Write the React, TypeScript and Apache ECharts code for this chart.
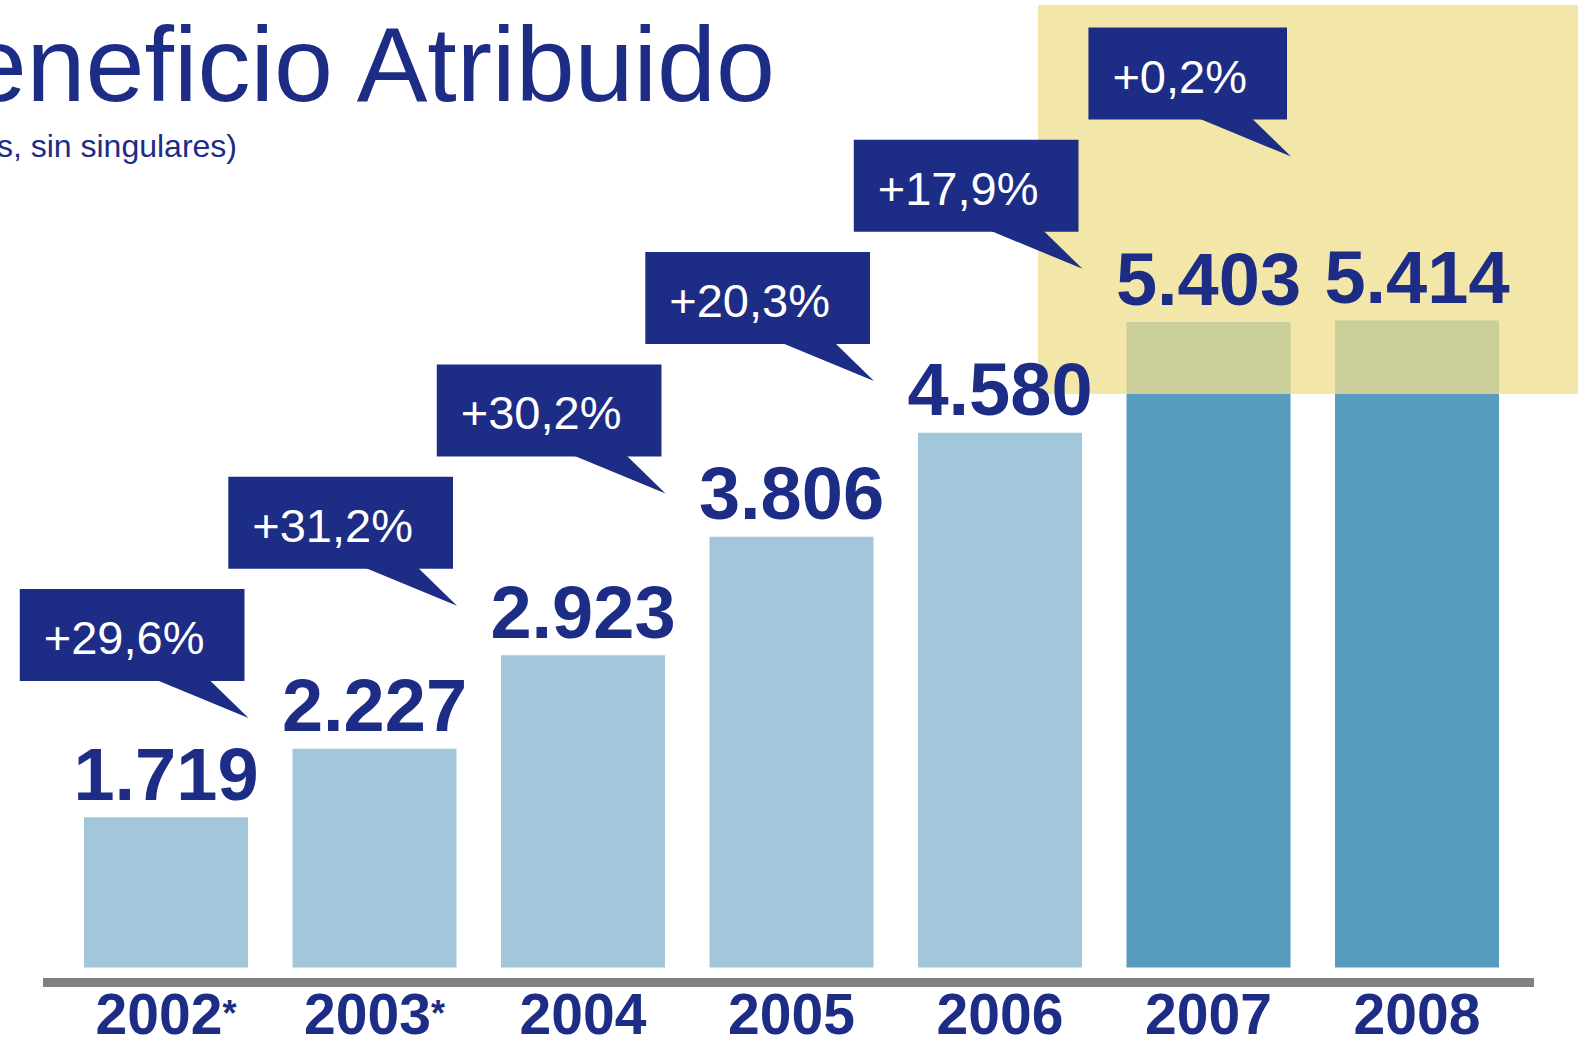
import React, { useEffect, useRef } from 'react';
import * as echarts from 'echarts';

// ---- Data ----
const years = ['2002', '2003', '2004', '2005', '2006', '2007', '2008'];
const yearNotes = ['*', '*', '', '', '', '', ''];
const profit = [1719, 2227, 2923, 3806, 4580, 5403, 5414];
// year-on-year growth into years[1..6]
const growth = [29.6, 31.2, 30.2, 20.3, 17.9, 0.2];
const highlighted = ['2007', '2008'];

const titleText = 'Beneficio Atribuido';
const subtitleText = '(Millones de euros, sin singulares)';

// ---- Style ----
const NAVY = '#1d2c85';
const LIGHT = '#a2c6da';
const DARK = '#579bbf';
const FONT = '"Liberation Sans", Arial, Helvetica, sans-serif';
const Y_MIN = 600;
const Y_MAX = 7800;

const fmtThousands = (v: number) =>
  v >= 1000 ? Math.floor(v / 1000) + '.' + String(v % 1000).padStart(3, '0') : String(v);
const fmtGrowth = (g: number) => '+' + g.toFixed(1).replace('.', ',') + '%';

export default function App() {
  const ref = useRef<HTMLDivElement>(null);

  useEffect(() => {
    if (!ref.current) return;
    const chart = echarts.init(ref.current, undefined, { renderer: 'svg' });

    const option: any = {
      animation: false,
      backgroundColor: '#ffffff',
      grid: { left: 61.75, right: 56.75, top: 0, bottom: 72, containLabel: false },
      xAxis: {
        type: 'category',
        data: years,
        offset: 12.5,
        axisLine: { show: false },
        axisTick: { show: false },
        splitLine: { show: false },
        axisLabel: {
          interval: 0,
          margin: 5,
          formatter: (val: string, idx: number) =>
            `{y|${val}}` + (yearNotes[idx] ? `{s|${yearNotes[idx]}}` : ''),
          rich: {
            y: { fontSize: 57, fontWeight: 'bold', color: NAVY, fontFamily: FONT, lineHeight: 57 },
            s: { fontSize: 36, fontWeight: 'bold', color: NAVY, fontFamily: FONT, lineHeight: 57 },
          },
        },
      },
      yAxis: {
        type: 'value',
        min: Y_MIN,
        max: Y_MAX,
        show: false,
        splitLine: { show: false },
      },
      graphic: [
        {
          type: 'text',
          x: 775,
          y: 64,
          z: 10,
          style: {
            text: titleText,
            fill: NAVY,
            font: `106px ${FONT}`,
            align: 'right',
            textAlign: 'right',
            verticalAlign: 'middle',
            textVerticalAlign: 'middle',
          },
        },
        {
          type: 'text',
          x: 237,
          y: 145.5,
          z: 10,
          style: {
            text: subtitleText,
            fill: NAVY,
            font: `32px ${FONT}`,
            align: 'right',
            textAlign: 'right',
            verticalAlign: 'middle',
            textVerticalAlign: 'middle',
          },
        },
        {
          type: 'rect',
          z: 3,
          shape: { x: 1038, y: 5, width: 540, height: 389 },
          style: { fill: 'rgba(238,222,141,0.76)' },
        },
        {
          type: 'line',
          z: 3,
          shape: { x1: 43, y1: 982.5, x2: 1534, y2: 982.5 },
          style: { stroke: '#808080', lineWidth: 9 },
        },
      ],
      series: [
        {
          type: 'bar',
          z: 2,
          barWidth: 164,
          data: profit.map((v, i) => ({
            value: v,
            itemStyle: { color: highlighted.includes(years[i]) ? DARK : LIGHT },
          })),
        },
        {
          // value labels above bars
          type: 'custom',
          z: 6,
          data: profit.map((v, i) => [i, v]),
          renderItem: (params: any, api: any) => {
            const i = api.value(0);
            const v = api.value(1);
            const p = api.coord([i, v]);
            return {
              type: 'text',
              x: p[0],
              y: p[1] - 43,
              style: {
                text: fmtThousands(v),
                fill: NAVY,
                font: `bold 74px ${FONT}`,
                align: 'center',
                textAlign: 'center',
                verticalAlign: 'middle',
                textVerticalAlign: 'middle',
              },
            };
          },
        },
        {
          // growth call-outs
          type: 'custom',
          z: 7,
          data: growth.map((g, k) => [k + 1, g]),
          renderItem: (params: any, api: any) => {
            const i = api.value(0);
            const g = api.value(1);
            const k = params.dataIndex;
            const cx = api.coord([i, Y_MIN])[0];
            const tipX = cx - 126;
            const tipY = 718 - 112.3 * k;
            const right = tipX - 4;
            const bottom = tipY - 37;
            return {
              type: 'group',
              children: [
                {
                  type: 'polygon',
                  shape: { points: [[right - 88, bottom - 1], [right - 35, bottom - 1], [tipX, tipY]] },
                  style: { fill: NAVY },
                },
                {
                  type: 'text',
                  x: right,
                  y: bottom,
                  style: {
                    text: fmtGrowth(g),
                    fill: '#ffffff',
                    font: `47px ${FONT}`,
                    align: 'right',
                    textAlign: 'right',
                    verticalAlign: 'bottom',
                    textVerticalAlign: 'bottom',
                    backgroundColor: NAVY,
                    padding: [25, 40, 20, 24],
                    lineHeight: 47,
                  },
                },
              ],
            };
          },
        },
      ],
    };

    chart.setOption(option);
    return () => chart.dispose();
  }, []);

  return (
    <div
      ref={ref}
      style={{ position: 'absolute', left: 0, top: 0, width: 1578, height: 1042 }}
    />
  );
}
